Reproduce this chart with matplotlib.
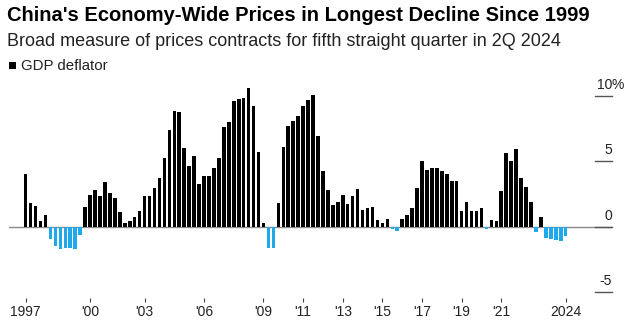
import numpy as np
import matplotlib
matplotlib.use("Agg")
import matplotlib.pyplot as plt
import matplotlib.transforms as mtransforms
from matplotlib.patches import Rectangle

plt.rcParams['font.family'] = ['Liberation Sans', 'DejaVu Sans']

# quarterly GDP deflator, % y/y, 1Q 1997 .. 2Q 2024
deflator = [
    4.0, 1.78, 1.6, 0.43, 0.87,
    -0.94, -1.5, -1.7, -1.6, -1.6, -1.7, -0.62,
    1.5, 2.39, 2.77, 2.34, 3.43, 2.57, 2.21, 1.15, 0.28, 0.43, 0.74, 1.17,
    2.34, 2.34, 2.93, 3.74, 5.24, 7.35, 8.83, 8.73, 6.0, 4.66, 5.39, 3.23,
    3.89, 3.89, 4.5, 5.27, 7.6, 8.0, 9.62, 9.75, 9.86, 10.62, 9.2, 5.68,
    0.25, -1.6, -1.6, 1.78, 6.1, 7.7, 8.05, 8.45, 9.2, 9.7, 10.05, 6.9,
    4.26, 2.77, 1.62, 1.9, 2.39, 1.7, 2.34, 2.85, 1.27, 1.45, 1.53, 0.49,
    0.29, 0.62, -0.19, -0.3, 0.59, 0.87, 1.4, 2.98, 5.0, 4.33, 4.5, 4.5,
    4.22, 4.02, 3.51, 3.46, 1.2, 1.86, 1.17, 1.17, 1.42, -0.2, 0.5, 0.4,
    2.72, 5.62, 5.0, 5.95, 3.69, 3.0, 1.86, -0.38, 0.74, -0.85, -0.95, -1.0, -1.1, -0.7,
]
quarters = [f"{y}Q{q}" for y in range(1997, 2025) for q in range(1, 5)][:len(deflator)]

tick_quarters = ['1997Q1', '2000Q2', '2003Q1', '2006Q1', '2009Q1', '2011Q1',
                 '2013Q1', '2015Q1', '2017Q1', '2019Q1', '2021Q1', '2024Q2']
tick_labels = ['1997', "'00", "'03", "'06", "'09", "'11",
               "'13", "'15", "'17", "'19", "'21", '2024']
y_ticks = [10, 5, 0, -5]

BLUE = '#1fa9ec'

fig = plt.figure(figsize=(6.27, 3.22), dpi=100)
W, H = 627, 322
ax = fig.add_axes([9 / W, 1 - 302 / H, 603 / W, 222 / H])

x = np.arange(len(deflator))
vals = np.array(deflator)
colors = ['black' if v >= 0 else BLUE for v in vals]
ax.bar(x, vals, width=0.72, color=colors, zorder=2)

ax.set_xlim(-3.37, 118.35)
ax.set_ylim(-5.75, 11.2)

ax.axhline(0, color='#8a8a8a', lw=1, zorder=1)

# short right-hand tick lines with labels above them
trans = mtransforms.blended_transform_factory(ax.transAxes, ax.transData)
for v in y_ticks:
    ax.plot([0.972, 1.0], [v, v], transform=trans, color='#555555', lw=1, zorder=3,
            clip_on=False)
    ax.annotate(str(v), xy=(1.0, v), xycoords=trans, xytext=(0, 5),
                textcoords='offset points', ha='right', va='baseline',
                fontsize=10, color='#222222')
ax.annotate('%', xy=(1.0, 10), xycoords=trans, xytext=(0, 5),
            textcoords='offset points', ha='left', va='baseline',
            fontsize=10, color='#222222')

ax.set_xticks([quarters.index(q) for q in tick_quarters])
ax.set_xticklabels(tick_labels)
ax.set_yticks([])
ax.tick_params(axis='x', direction='in', length=3, width=0.8, color='#444444',
               labelsize=10, labelcolor='#222222', pad=2)
for s in ax.spines.values():
    s.set_visible(False)

fig.text(7 / W, 1 - 21 / H, "China's Economy-Wide Prices in Longest Decline Since 1999",
         fontsize=14.5, fontweight='bold', color='black', va='baseline')
fig.text(7 / W, 1 - 46 / H, "Broad measure of prices contracts for fifth straight quarter in 2Q 2024",
         fontsize=13, color='#222222', va='baseline')
fig.patches.append(Rectangle((9 / W, 1 - 69 / H), 7 / W, 7 / H, transform=fig.transFigure,
                             facecolor='black', edgecolor='none'))
fig.text(21 / W, 1 - 70 / H, "GDP deflator", fontsize=10.8, color='#222222', va='baseline')

fig.savefig('out.png', dpi=100)
